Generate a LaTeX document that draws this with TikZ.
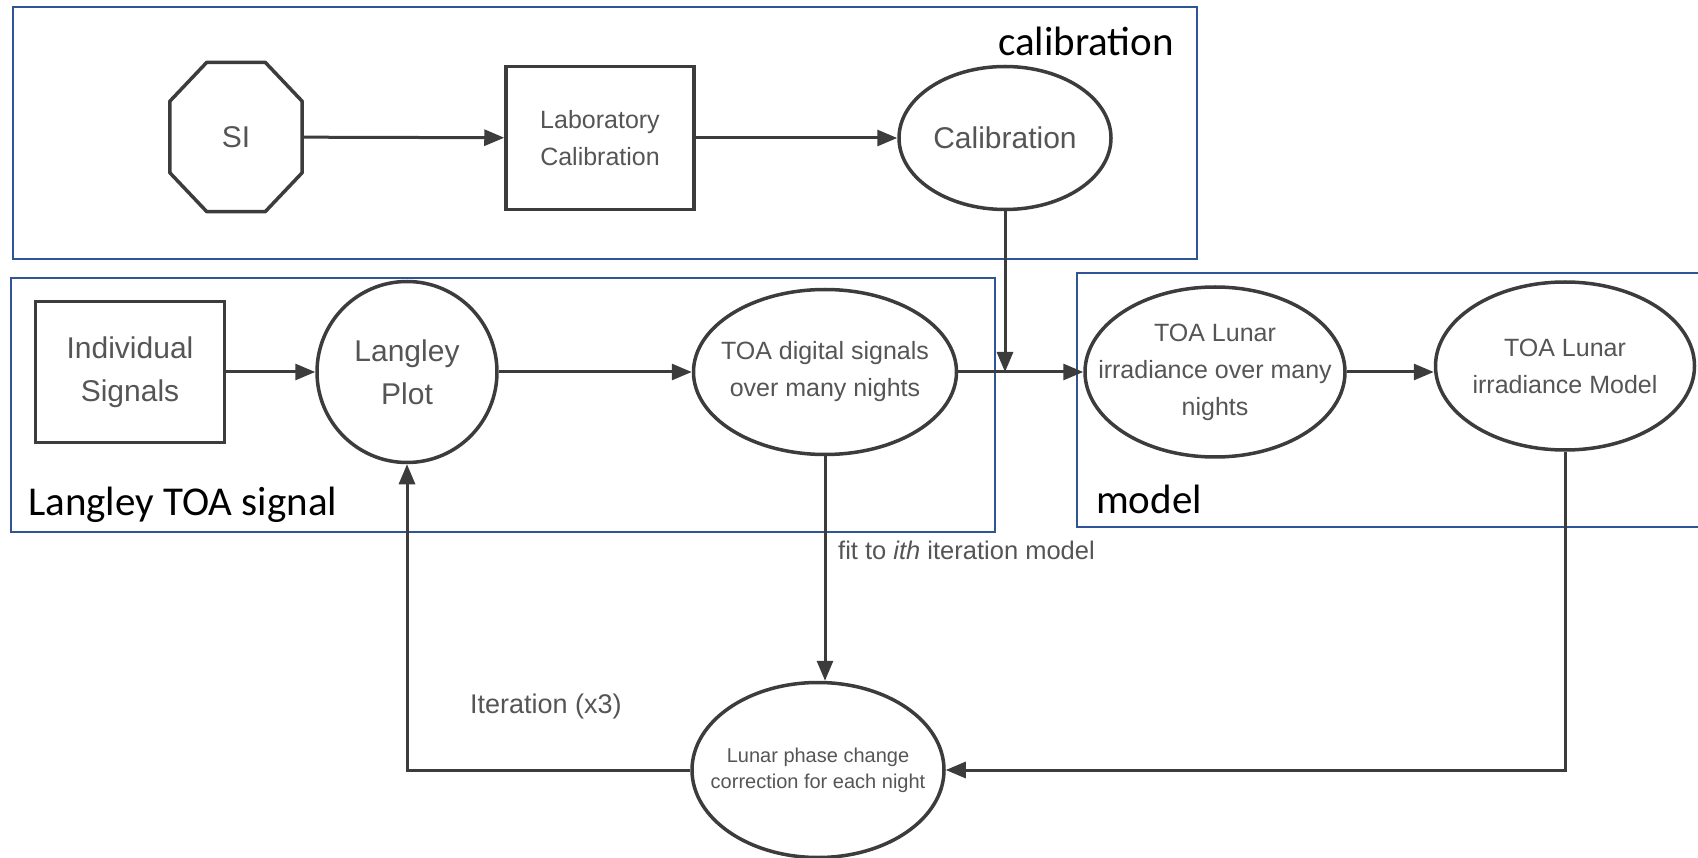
\documentclass[tikz,border=0pt]{standalone}
\usepackage{fontspec}
\setmainfont{Liberation Sans}
\newfontfamily\calfont{Carlito}
\usetikzlibrary{shapes.geometric,arrows.meta}
\definecolor{linegrey}{RGB}{60,60,60}
\definecolor{textgrey}{RGB}{85,85,85}
\definecolor{boxblue}{RGB}{47,85,151}

\begin{document}
\begin{tikzpicture}[x=1pt,y=-1pt,
    shapeline/.style={draw=linegrey,line width=3.5pt,fill=white,inner sep=0pt,text=textgrey},
    oval/.style={shapeline,ellipse},
    box/.style={shapeline,rectangle,align=center},
    txtbig/.style={text=textgrey,align=center,font=\fontsize{30}{43}\selectfont},
    txtmid/.style={text=textgrey,align=center,font=\fontsize{25}{37}\selectfont},
    txtsmall/.style={text=textgrey,align=center,font=\fontsize{20}{26}\selectfont},
    arr/.style={draw=linegrey,line width=3pt,-{Triangle[length=20pt,width=16pt]}},
    group/.style={draw=boxblue,line width=2.5pt},
    grouplbl/.style={font=\calfont\fontsize{41}{50}\selectfont,text=black,inner sep=0pt}]
  \useasboundingbox (0,0) rectangle (1698,858);
  % blue groups
  \draw[group] (13,7) rectangle (1197,259);
  \draw[group] (11,278) rectangle (995,532);
  \draw[group] (1698,273) -- (1077,273) -- (1077,527) -- (1698,527);
  \node[grouplbl,anchor=base east] (callbl) at (1174,56) {calibration};
  \node[grouplbl,anchor=base west] (langlbl) at (28,515) {Langley TOA signal};
  \node[grouplbl,anchor=base west] (modlbl) at (1096,513) {model};

  % top row
  \node[txtbig,minimum width=132,minimum height=149,inner sep=0pt] (si) at (236,137) {SI};
  \draw[draw=linegrey,line width=3.5pt,line join=round] ([xshift=37pt]si.north west) -- ([xshift=-37pt]si.north east)
    -- ([yshift=-39pt]si.north east) -- ([yshift=39pt]si.south east)
    -- ([xshift=-37pt]si.south east) -- ([xshift=37pt]si.south west)
    -- ([yshift=39pt]si.south west) -- ([yshift=-39pt]si.north west) -- cycle;
  \node[box,minimum width=188,minimum height=143,txtmid] (lab) at (600,138) {Laboratory\\Calibration};
  \node[oval,minimum width=212,minimum height=143,label={[txtbig]center:Calibration}] (cal) at (1005,138) {};

  % middle row
  \node[box,minimum width=189,minimum height=141,txtbig] (indiv) at (130,372) {Individual\\Signals};
  \node[oval,minimum width=180,minimum height=181,label={[txtbig]center:Langley\\Plot}] (langley) at (407,372) {};
  \node[oval,minimum width=263,minimum height=165,label={[txtmid]center:TOA digital signals\\over many nights}] (toa) at (825,372) {};
  \node[oval,minimum width=260,minimum height=170,label={[txtmid]center:TOA Lunar\\irradiance over many\\nights}] (many) at (1215,372) {};
  \node[oval,minimum width=259,minimum height=168,label={[txtmid]center:TOA Lunar\\irradiance Model}] (model) at (1565,366) {};
  \coordinate (join) at (1005,372);

  % bottom
  \node[oval,minimum width=252,minimum height=175,label={[txtsmall]center:Lunar phase change\\correction for each night}] (phase) at (818,770) {};
  \node[txtmid,font=\fontsize{25.5}{32}\selectfont,anchor=base west,inner sep=0pt] (fitlbl) at (838,559) {fit to \emph{ith} iteration model};
  \node[txtmid,font=\fontsize{27}{32}\selectfont,anchor=base west,inner sep=0pt] (iterlbl) at (470,713) {Iteration (x3)};

  \draw[arr] (si) -- (lab);
  \draw[arr] (lab) -- (cal);
  \draw[arr] (cal) -- (join);
  \draw[arr] (indiv) -- (langley);
  \draw[arr] (langley) -- (toa);
  \draw[arr] (toa) -- (many);
  \draw[arr] (many.east) -- (many.east -| model.west);
  \draw[arr] (toa.south) -- (toa.south |- phase.north);
  \draw[arr] (model) |- (phase);
  \draw[arr] (phase) -| (langley);
\end{tikzpicture}
\end{document}
